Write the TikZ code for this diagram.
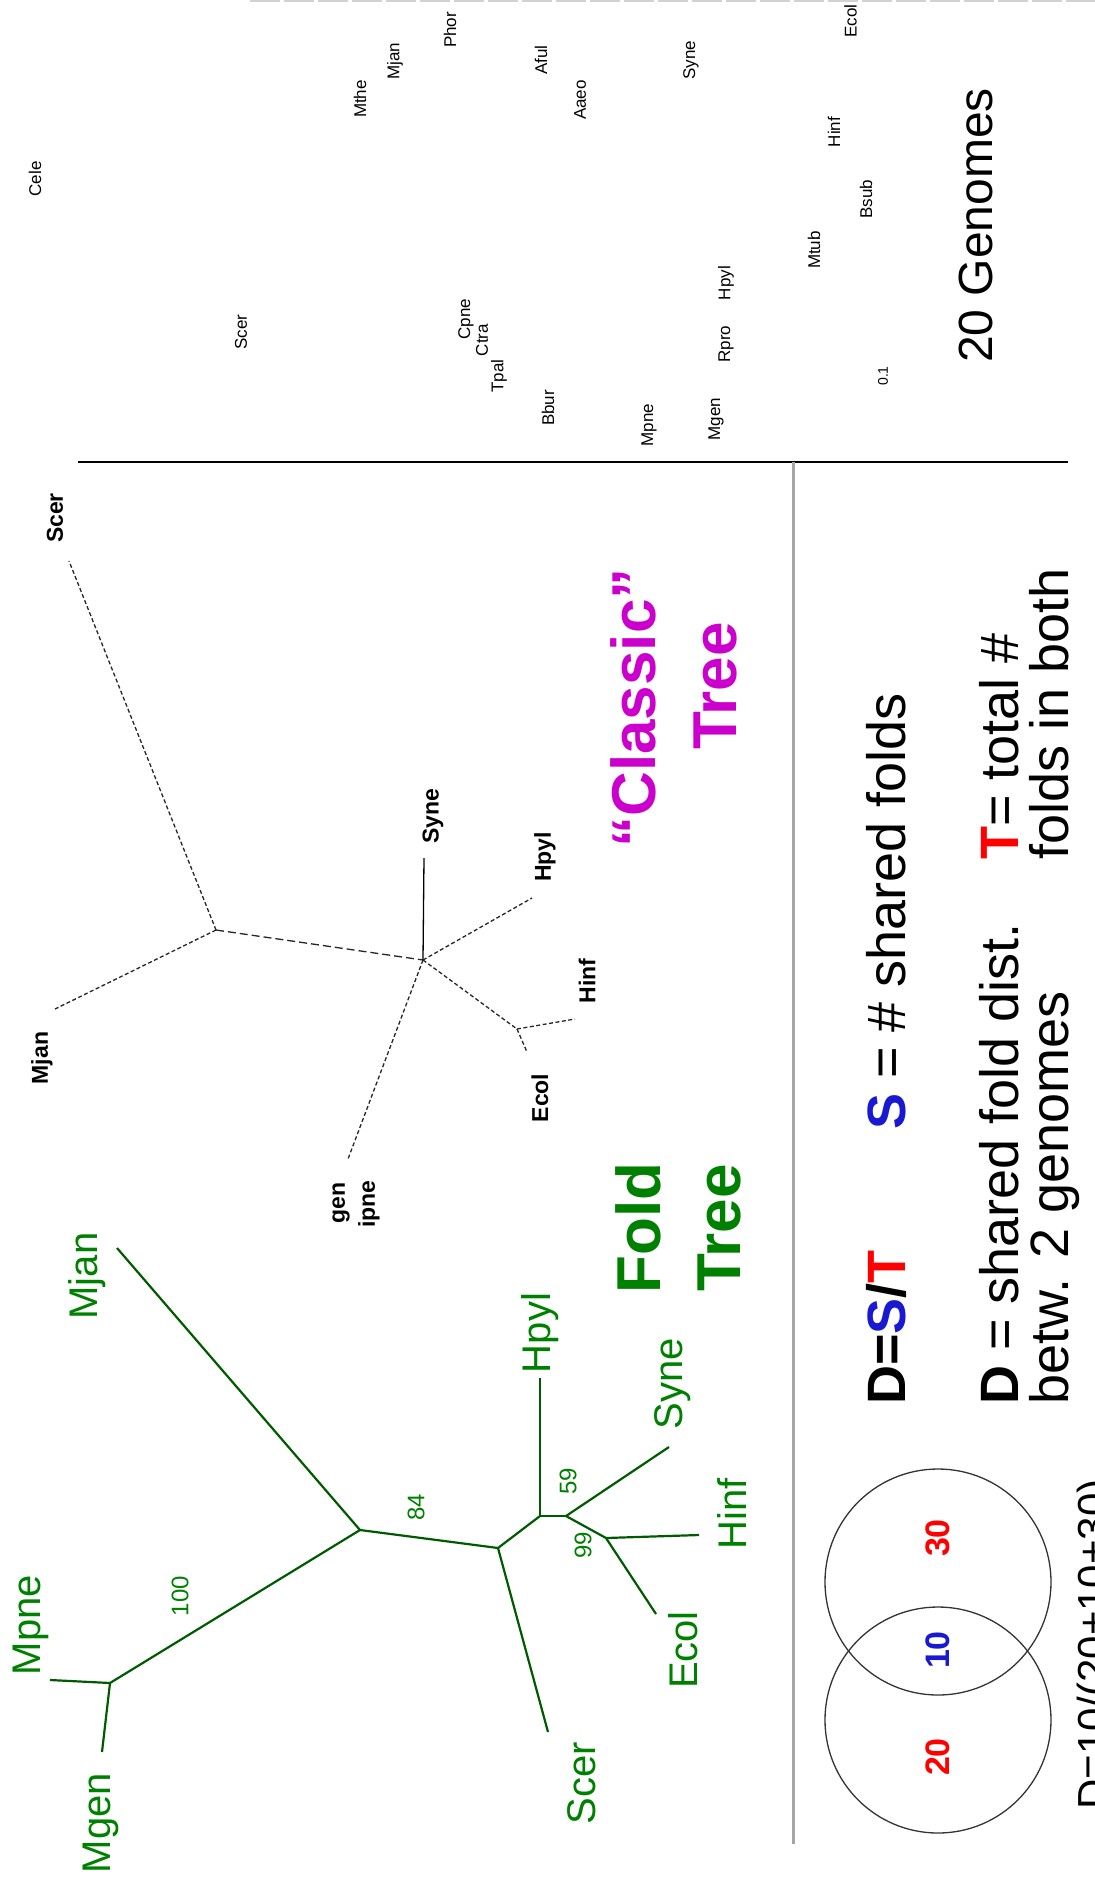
\documentclass[tikz,border=0pt]{standalone}
\usepackage{fontspec}
\setmainfont{Liberation Sans}
\definecolor{fgreen}{RGB}{0,128,0}
\definecolor{flinec}{RGB}{0,90,0}
\definecolor{cmag}{RGB}{204,0,204}
\definecolor{sblue}{RGB}{25,25,210}
\definecolor{tred}{RGB}{255,0,0}
\newcommand{\fsz}[1]{\fontsize{#1}{#1}\selectfont}
\tikzset{
  lab/.style={rotate=90, inner sep=0pt},
  tinylab/.style={lab, font=\fsz{17}},
  cllab/.style={lab, font=\fsz{23}\bfseries},
  fllab/.style={lab, anchor=base, font=\fsz{40}, text=fgreen},
  bootlab/.style={lab, font=\fsz{24}, text=fgreen},
  ctree/.style={line width=1.3pt, dash pattern=on 4pt off 2.5pt, draw=black!85},
  ftree/.style={line width=2.2pt, draw=flinec},
  bigword/.style={lab, anchor=base, font=\fsz{62}\bfseries},
  legend/.style={lab, anchor=base west, font=\fsz{54}},
  venn/.style={line width=1.3pt, draw=black!80},
  vennnum/.style={lab, font=\fsz{34}\bfseries},
}
\begin{document}
\begin{tikzpicture}[x=1pt, y=-1pt]
\useasboundingbox (0,0) rectangle (1095,1883);
\fill[white] (0,0) rectangle (1095,1883);

% ---------- frame lines ----------
\coordinate (tl) at (250,1);  \coordinate (tr) at (1095,1);
\draw[gray!35, line width=1.5pt, dash pattern=on 30pt off 4pt] (tl) -- (tr);
\coordinate (hl) at (78,462); \coordinate (hr) at (1068,462);
\draw[black, line width=2pt] (hl) -- (hr);
\coordinate (vt) at (793,462); \coordinate (vb) at (793,1844);
\draw[gray!70, line width=3pt] (vt) -- (vb);

% ---------- 20 genomes panel ----------
\node[tinylab] (g1) at (35,179) {Cele};
\node[tinylab] (g2) at (241,332) {Scer};
\node[tinylab] (g3) at (360,99) {Mthe};
\node[tinylab] (g4) at (395,61) {Mjan};
\node[tinylab] (g5) at (450,30) {Phor};
\node[tinylab] (g6) at (541,60) {Aful};
\node[tinylab] (g7) at (580,100) {Aaeo};
\node[tinylab] (g8) at (691,60) {Syne};
\node[tinylab, anchor=south west] (g9) at (857,38) {Ecol};
\node[tinylab] (g10) at (834,132) {Hinf};
\node[tinylab] (g11) at (866,199) {Bsub};
\node[tinylab] (g12) at (814,250) {Mtub};
\node[tinylab] (g13) at (726,283) {Hpyl};
\node[tinylab] (g14) at (726,344) {Rpro};
\node[tinylab] (g15) at (716,419) {Mgen};
\node[tinylab] (g16) at (649,425) {Mpne};
\node[tinylab] (g17) at (548,408) {Bbur};
\node[tinylab] (g18) at (499,376) {Tpal};
\node[tinylab] (g19) at (482,340) {Ctra};
\node[tinylab] (g20) at (466,319) {Cpne};
\node[tinylab, font=\fsz{14}] (g21) at (883,376) {0.1};
\node[lab, anchor=base west, font=\fsz{48}] (gtitle) at (992,363) {20 Genomes};

% ---------- classic tree ----------
\coordinate (cA) at (216,930);
\coordinate (cB) at (423,960);
\coordinate (cC) at (517,1029);
\coordinate (cScer) at (69,561);
\coordinate (cMjan) at (55,1009);
\coordinate (cSyne) at (424,858);
\coordinate (cHpyl) at (532,898);
\coordinate (cHinf) at (575,1019);
\coordinate (cEcol) at (527,1052);
\coordinate (cMyc) at (348,1159);
\draw[ctree] (cA) -- (cScer);
\draw[ctree] (cA) -- (cMjan);
\draw[ctree, dash pattern=on 8pt off 4pt] (cA) -- (cB);
\draw[line width=1.3pt] (cB) -- (cSyne);
\draw[ctree] (cB) -- (cHpyl);
\draw[ctree] (cB) -- (cC);
\draw[ctree] (cC) -- (cHinf);
\draw[ctree] (cC) -- (cEcol);
\draw[ctree] (cB) -- (cMyc);
\node[cllab] (clScer) at (55,518) {Scer};
\node[cllab] (clMjan) at (42,1058) {Mjan};
\node[cllab] (clSyne) at (433,816) {Syne};
\node[cllab] (clHpyl) at (545,857) {Hpyl};
\node[cllab] (clHinf) at (587,981) {Hinf};
\node[cllab] (clEcol) at (540,1098) {Ecol};
\node[cllab] (clgen) at (341,1203) {gen};
\node[cllab] (clpne) at (369,1204) {ipne};
\node[bigword, text=cmag] (classic) at (655,708) {“Classic”};
\node[bigword, text=cmag] (ctreeword) at (736,686) {Tree};

% ---------- fold tree ----------
\coordinate (fJ) at (110,1683);
\coordinate (fA) at (360,1530);
\coordinate (fB) at (498,1548);
\coordinate (fC) at (540,1516);
\coordinate (fD) at (566,1516);
\coordinate (fE) at (606,1538);
\coordinate (fMpne) at (50,1680);
\coordinate (fMgen) at (102,1752);
\coordinate (fMjan) at (117,1248);
\coordinate (fScer) at (548,1732);
\coordinate (fHpyl) at (540,1378);
\coordinate (fSyne) at (669,1447);
\coordinate (fHinf) at (699,1535);
\coordinate (fEcol) at (656,1614);
\draw[ftree] (fJ) -- (fMpne);
\draw[ftree] (fJ) -- (fMgen);
\draw[ftree] (fJ) -- (fA);
\draw[ftree] (fA) -- (fMjan);
\draw[ftree] (fA) -- (fB);
\draw[ftree] (fB) -- (fScer);
\draw[ftree] (fB) -- (fC);
\draw[ftree] (fC) -- (fHpyl);
\draw[ftree] (fC) -- (fD);
\draw[ftree] (fD) -- (fSyne);
\draw[ftree] (fD) -- (fE);
\draw[ftree] (fE) -- (fHinf);
\draw[ftree] (fE) -- (fEcol);
\node[fllab] (flMpne) at (40,1625) {Mpne};
\node[fllab] (flMgen) at (110,1823) {Mgen};
\node[fllab] (flMjan) at (97,1276) {Mjan};
\node[fllab] (flScer) at (595,1783) {Scer};
\node[fllab] (flEcol) at (697,1650) {Ecol};
\node[fllab] (flHinf) at (746,1514) {Hinf};
\node[fllab] (flSyne) at (682,1384) {Syne};
\node[fllab] (flHpyl) at (550,1333) {Hpyl};
\node[bootlab] (b100) at (180,1596) {100};
\node[bootlab] (b84) at (416,1507) {84};
\node[bootlab] (b59) at (568,1481) {59};
\node[bootlab] (b99) at (583,1545) {99};
\node[bigword, text=fgreen] (foldword) at (660,1228) {Fold};
\node[bigword, text=fgreen] (ftreeword) at (740,1228) {Tree};

% ---------- legend ----------
\node[legend] (l1a) at (905,1405) {\textbf{D=\textcolor{sblue}{S}/\textcolor{tred}{T}}};
\node[legend] (l1b) at (905,1130) {\textbf{\textcolor{sblue}{S}} = \# shared folds};
\node[legend] (l2a) at (1018,1405) {\textbf{D} = shared fold dist.};
\node[legend] (l2b) at (1018,860) {\textbf{\textcolor{tred}{T}}= total \#};
\node[legend] (l3a) at (1068,1405) {betw. 2 genomes};
\node[legend] (l3b) at (1068,860) {folds in both};

% ---------- venn ----------
\node[venn, circle, minimum size=226pt, inner sep=0pt] (vup) at (938,1582) {};
\node[venn, circle, minimum size=226pt, inner sep=0pt] (vlo) at (938,1720) {};
\node[vennnum, text=tred] (n30) at (938,1538) {30};
\node[vennnum, text=sblue] (n10) at (938,1650) {10};
\node[vennnum, text=tred] (n20) at (938,1757) {20};
\node[lab, anchor=base west, font=\fsz{42}] (dcalc) at (1107,1810) {D=10/(20+10+30)};
\end{tikzpicture}
\end{document}
